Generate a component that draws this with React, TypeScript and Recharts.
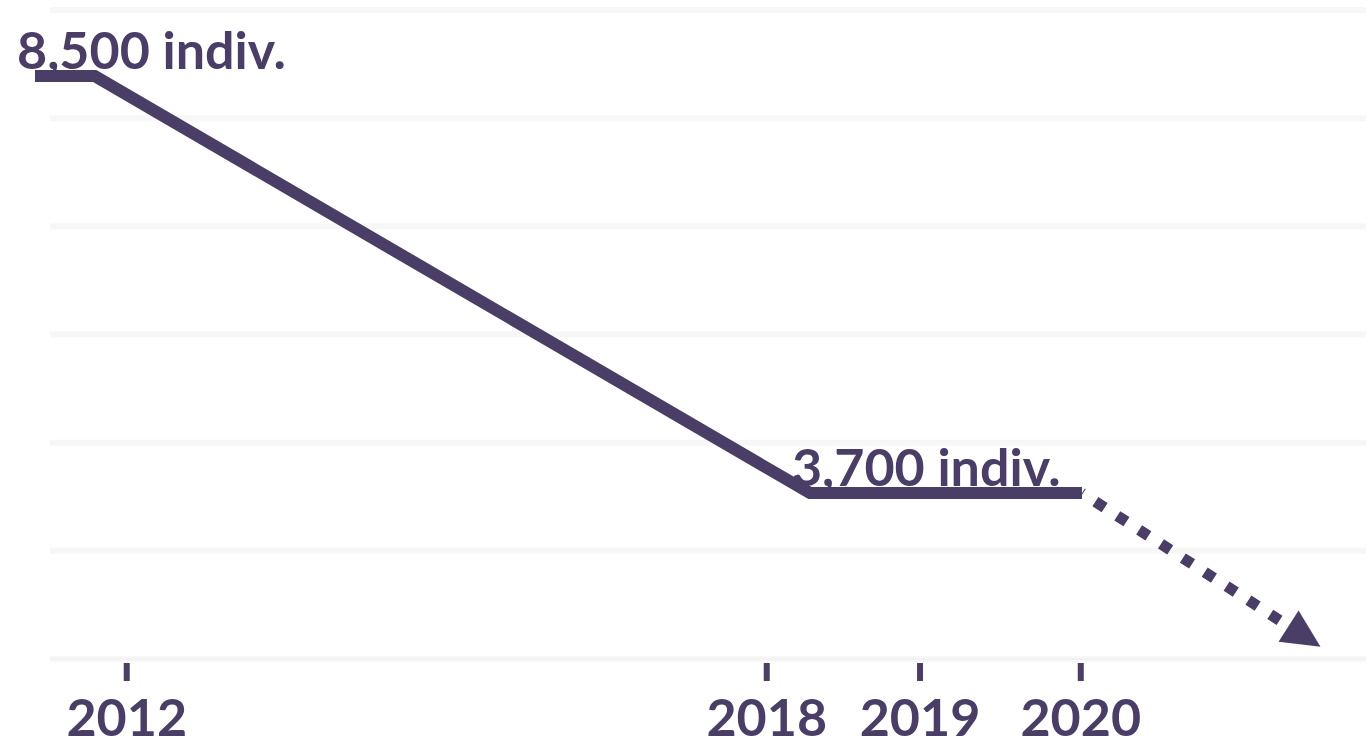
import React from 'react';
import { LineChart, Line, XAxis, YAxis, CartesianGrid, ReferenceLine } from 'recharts';

const INK = '#4a3d66';
const FONT = 'Lato, "Noto Sans", sans-serif';

// Tick labels and where they sit on the (stretched) year axis of the original layout
const tickYears = ['2012', '2018', '2019', '2020'];
const tickPositions = [2012, 2018, 2019.437, 2020.944];

// Main series
const mainX = [2011.14, 2011.7, 2018.405, 2020.955];
const mainY = [8500, 8500, 3700, 3700];
const mainLabels = ['8,500 indiv.', '', '3,700 indiv.', ''];

// Projected trend (dotted arrow; last point is the arrow head's base)
const trendX = [2020.955, 2022.892];
const trendY = [3700, 2169];

// Gridline values and domains
const gridValues = [3035, 4280, 5525, 6770, 8015, 9260];
const gridStartX = 2011.281;
const xDomain: [number, number] = [2011.14, 2023.618];
const yDomain: [number, number] = [1790, 9260];

const mainData = mainX.map((x, i) => ({ x, y: mainY[i], label: mainLabels[i] }));
const trendData = trendX.map((x, i) => ({ x, y: trendY[i] }));

const MainDot = (props: any) => {
  const { cx, cy, index, payload } = props;
  const text = payload && payload.label;
  if (!text || cx == null) return <g key={`m${index}`} />;
  return (
    <text
      key={`m${index}`}
      x={cx - 18}
      y={cy - 7}
      textAnchor="start"
      fill={INK}
      stroke="none"
      fontSize={52}
      fontWeight={700}
      fontFamily={FONT}
    >
      {text}
    </text>
  );
};

const ArrowHead = (props: any) => {
  const { cx, cy, index, points } = props;
  if (index !== trendX.length - 1 || cx == null) return <g key={`a${index}`} />;
  let angle = Math.atan2(133, 206);
  if (points && points.length > 1) {
    const p = points[points.length - 2];
    angle = Math.atan2(cy - p.y, cx - p.x);
  }
  const len = 38;
  const half = 18.5;
  const tx = cx + len * Math.cos(angle);
  const ty = cy + len * Math.sin(angle);
  const nx = -Math.sin(angle) * half;
  const ny = Math.cos(angle) * half;
  return (
    <polygon
      key="arrow"
      points={`${tx},${ty} ${cx + nx},${cy + ny} ${cx - nx},${cy - ny}`}
      fill={INK}
      stroke="none"
    />
  );
};

const YearTick = (props: any) => {
  const { x, y, payload, index } = props;
  const label = tickYears[tickPositions.indexOf(payload.value)] ?? '';
  return (
    <g key={`t${index}`}>
      <rect x={x - 3} y={y - 36} width={6} height={18} fill={INK} />
      <text
        x={x}
        y={y}
        dy="0.71em"
        textAnchor="middle"
        fill={INK}
        fontSize={52}
        fontWeight={700}
        fontFamily={FONT}
      >
        {label}
      </text>
    </g>
  );
};

export default function App() {
  return (
    <div style={{ position: 'absolute', left: 0, top: 0, background: '#fff' }}>
      <LineChart width={1372} height={738} margin={{ top: 10, right: 6, left: 35, bottom: 0 }}>
        <CartesianGrid
          vertical={false}
          x={50}
          width={1316}
          stroke="#f7f7f7"
          strokeWidth={6}
        />
        <XAxis
          type="number"
          dataKey="x"
          domain={xDomain}
          ticks={tickPositions}
          interval={0}
          axisLine={false}
          tickLine={false}
          tickSize={20}
          tickMargin={20}
          height={79}
          tick={YearTick}
        />
        <YAxis type="number" dataKey="y" domain={yDomain} ticks={gridValues} hide />
        <ReferenceLine
          segment={[
            { x: gridStartX, y: yDomain[0] },
            { x: xDomain[1], y: yDomain[0] },
          ]}
          stroke="#f2f2f2"
          strokeWidth={2}
        />
        <Line
          data={mainData}
          dataKey="y"
          type="linear"
          stroke={INK}
          strokeWidth={12}
          strokeLinejoin="miter"
          strokeLinecap="butt"
          dot={MainDot}
          activeDot={false}
          isAnimationActive={false}
        />
        <Line
          data={trendData}
          dataKey="y"
          type="linear"
          stroke={INK}
          strokeWidth={11}
          strokeLinecap="butt"
          strokeDasharray="11 15"
          strokeDashoffset={10}
          dot={ArrowHead}
          activeDot={false}
          isAnimationActive={false}
        />
      </LineChart>
    </div>
  );
}
